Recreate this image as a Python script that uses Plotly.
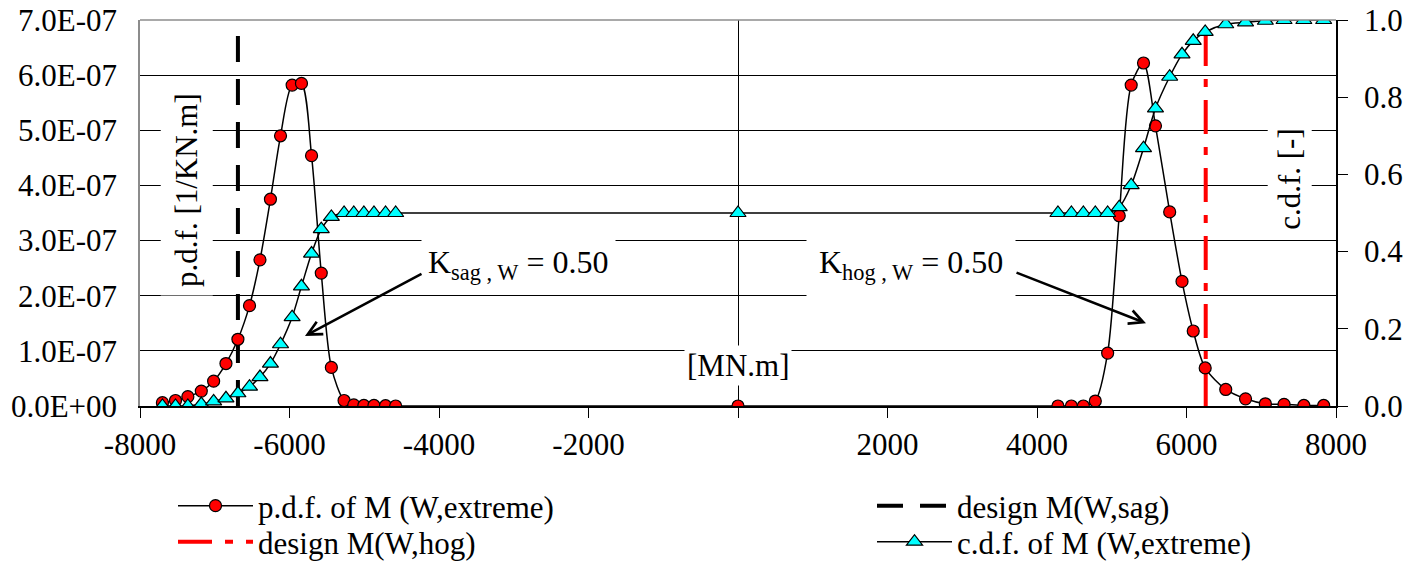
import plotly.graph_objects as go

# ---------------- data ----------------
# bending moment M [MN.m] -- sagging branch, the mid point, hogging branch
m_sag = [-7700, -7525, -7360, -7180, -7015, -6850, -6690, -6535, -6395, -6255, -6120,
         -5965, -5840, -5705, -5575, -5440, -5270, -5140, -5005, -4870, -4715, -4580]
m_mid = [0]
m_hog = [4280, 4460, 4620, 4780, 4945, 5100, 5260, 5425, 5585, 5775, 5940,
         6090, 6250, 6525, 6790, 7055, 7305, 7570, 7835]

# p.d.f. of M (W,extreme) [1/KN.m]
pdf_sag = [0.06e-7, 0.10e-7, 0.17e-7, 0.27e-7, 0.45e-7, 0.77e-7, 1.21e-7, 1.82e-7, 2.65e-7, 3.75e-7, 4.90e-7,
           5.82e-7, 5.85e-7, 4.54e-7, 2.41e-7, 0.70e-7, 0.10e-7, 0.02e-7, 0.01e-7, 0.01e-7, 0.005e-7, 0.0]
pdf_mid = [0.0]
pdf_hog = [0.0, 0.0, 0.0, 0.09e-7, 0.96e-7, 3.45e-7, 5.82e-7, 6.22e-7, 5.08e-7, 3.52e-7, 2.26e-7,
           1.36e-7, 0.69e-7, 0.30e-7, 0.13e-7, 0.04e-7, 0.03e-7, 0.01e-7, 0.01e-7]

# c.d.f. of M (W,extreme) [-]
cdf_sag = [0.0, 0.0, 0.0, 0.005, 0.012, 0.02, 0.033, 0.05, 0.075, 0.11, 0.16,
           0.23, 0.31, 0.395, 0.458, 0.49, 0.5, 0.5, 0.5, 0.5, 0.5, 0.5]
cdf_mid = [0.5]
cdf_hog = [0.5, 0.5, 0.5, 0.5, 0.5, 0.515, 0.572, 0.668, 0.771, 0.853, 0.911,
           0.946, 0.969, 0.989, 0.994, 0.998, 1.0, 1.0, 1.0]

# design moments
design_sag = -6690
design_hog = 6257
design_span = [0.0, 7.0e-7]

# axis ticks
x_tickvals = [-8000, -6000, -4000, -2000, 0, 2000, 4000, 6000, 8000]
x_ticktext = ["-8000", "-6000", "-4000", "-2000", "", "2000", "4000", "6000", "8000"]
y_tickvals = [0.0, 1e-7, 2e-7, 3e-7, 4e-7, 5e-7, 6e-7, 7e-7]
y_ticktext = ["0.0E+00", "1.0E-07", "2.0E-07", "3.0E-07", "4.0E-07", "5.0E-07", "6.0E-07", "7.0E-07"]
y2_tickvals = [0.0, 0.2, 0.4, 0.6, 0.8, 1.0]
y2_ticktext = ["0.0", "0.2", "0.4", "0.6", "0.8", "1.0"]

# annotation texts
k_sag_text = "K<sub>sag , W</sub> = 0.50"
k_hog_text = "K<sub>hog , W</sub> = 0.50"
unit_text = "[MN.m]"
pdf_title = "p.d.f. [1/KN.m]"
cdf_title = "c.d.f. [-]"

# ---------------- figure ----------------
FONT = "Liberation Serif"
FS = 31
m_all = m_sag + m_mid + m_hog
pdf_all = pdf_sag + pdf_mid + pdf_hog
cdf_all = cdf_sag + cdf_mid + cdf_hog

fig = go.Figure()

fig.add_trace(go.Scatter(
    x=[design_sag, design_sag], y=design_span, mode="lines", name="design M(W,sag)",
    line=dict(color="black", width=4, dash="26px,17px"),
    legend="legend2", hoverinfo="skip"))

fig.add_trace(go.Scatter(
    x=[design_hog, design_hog], y=design_span, mode="lines", name="design M(W,hog)",
    line=dict(color="#FF0000", width=4, dash="34px,13px,8px,13px"),
    legend="legend3", hoverinfo="skip"))

fig.add_trace(go.Scatter(
    x=m_all, y=pdf_all, mode="lines+markers", name="p.d.f. of M (W,extreme)",
    line=dict(color="black", width=1.5, shape="spline", smoothing=0.8),
    marker=dict(symbol="circle", size=12, color="#FF0000", line=dict(color="black", width=1.2)),
    legend="legend"))

fig.add_trace(go.Scatter(
    x=m_all, y=cdf_all, mode="lines+markers", name="c.d.f. of M (W,extreme)", yaxis="y2",
    line=dict(color="black", width=1.5, shape="spline", smoothing=0.8),
    marker=dict(symbol="triangle-up", size=14, color="#00FFFF", line=dict(color="black", width=1.2)),
    legend="legend4"))

tickfont = dict(family=FONT, size=FS, color="black")

# the page body margin is removed (post_script below), so the plot area
# lands at screen pixels x 140..1336, y 20..406
FIG_W, FIG_H = 1419, 564
PLOT_L, PLOT_R, PLOT_T, PLOT_B = 140, 1336, 20, 406


def px_to_paper(px, py):
    return (px - PLOT_L) / (PLOT_R - PLOT_L), (PLOT_B - py) / (PLOT_B - PLOT_T)


def legend_at(px, py):
    lx, ly = px_to_paper(px, py)
    return dict(orientation="v", x=lx, xanchor="left", y=ly, yanchor="middle",
                font=dict(family=FONT, size=FS, color="black"), itemwidth=75,
                bgcolor="rgba(0,0,0,0)", borderwidth=0)


fig.update_layout(
    width=FIG_W, height=FIG_H,
    margin=dict(l=PLOT_L, r=FIG_W - PLOT_R, t=PLOT_T, b=FIG_H - PLOT_B, autoexpand=False),
    paper_bgcolor="white", plot_bgcolor="white",
    font=dict(family=FONT, size=FS, color="black"),
    showlegend=True,
    xaxis=dict(
        range=[-8000, 8000], tickvals=x_tickvals, ticktext=x_ticktext,
        ticks="outside", ticklen=10, tickwidth=1, tickcolor="black",
        showline=True, linecolor="black", linewidth=1.5,
        showgrid=False, zeroline=True, zerolinecolor="black", zerolinewidth=1,
        tickfont=tickfont, ticklabelstandoff=0, automargin=False,
        ticklabeloverflow="allow"),
    yaxis=dict(
        range=[0, 7e-7], tickvals=y_tickvals, ticktext=y_ticktext,
        ticks="", showline=True, linecolor="#8c8c8c", linewidth=1.5,
        showgrid=True, gridcolor="black", gridwidth=1, zeroline=False,
        tickfont=tickfont, ticklabelstandoff=15, automargin=False,
        ticklabeloverflow="allow"),
    yaxis2=dict(
        range=[0, 1], tickvals=y2_tickvals, ticktext=y2_ticktext,
        overlaying="y", side="right", anchor="x",
        ticks="outside", ticklen=10, tickcolor="black", tickwidth=1,
        showline=True, linecolor="black", linewidth=1.5,
        showgrid=False, zeroline=False, tickfont=tickfont, ticklabelstandoff=10,
        automargin=False, ticklabeloverflow="allow"),
    yaxis3=dict(
        range=[0, 1], tickvals=y2_tickvals, overlaying="y", side="right", anchor="x",
        ticks="inside", ticklen=10, tickcolor="black", tickwidth=1,
        showticklabels=False, showline=False, showgrid=False, zeroline=False,
        automargin=False),
    legend=legend_at(173, 506),
    legend2=legend_at(872, 506),
    legend3=legend_at(173, 542),
    legend4=legend_at(872, 542),
)

# top border of the plot area (grey)
fig.add_shape(type="line", xref="paper", yref="paper", x0=0, x1=1, y0=1, y1=1,
              line=dict(color="#8c8c8c", width=1.5))

# labels with white boxes (they break the grid lines as in the original)
fig.add_annotation(x=-7370, y=3.92e-7, xref="x", yref="y", text=pdf_title, textangle=-90,
                   showarrow=False, bgcolor="white", borderpad=8,
                   font=dict(family=FONT, size=FS, color="black"))
fig.add_annotation(x=7385, y=4.12e-7, xref="x", yref="y", text=cdf_title, textangle=-90,
                   showarrow=False, bgcolor="white", borderpad=4,
                   font=dict(family=FONT, size=FS, color="black"))
fig.add_annotation(x=0, y=0.74e-7, xref="x", yref="y", text=unit_text,
                   showarrow=False, bgcolor="white", borderpad=2,
                   font=dict(family=FONT, size=FS, color="black"))
fig.add_annotation(x=-2930, y=2.56e-7, xref="x", yref="y", text=k_sag_text,
                   showarrow=False, bgcolor="white", borderpad=6,
                   font=dict(family=FONT, size=32, color="black"))
fig.add_annotation(x=2320, y=2.56e-7, xref="x", yref="y", text=k_hog_text,
                   showarrow=False, bgcolor="white", borderpad=12,
                   font=dict(family=FONT, size=32, color="black"))

# arrows
fig.add_annotation(x=-5793, y=1.27e-7, ax=-4214, ay=2.41e-7, xref="x", yref="y",
                   axref="x", ayref="y", text="", showarrow=True,
                   arrowhead=5, arrowsize=1.1, arrowwidth=2.5, arrowcolor="black")
fig.add_annotation(x=5458, y=1.50e-7, ax=3706, ay=2.43e-7, xref="x", yref="y",
                   axref="x", ayref="y", text="", showarrow=True,
                   arrowhead=5, arrowsize=1.1, arrowwidth=2.5, arrowcolor="black")

fig.write_html("out.html",
               config={"displayModeBar": False},
               post_script="document.body.style.margin='0px';"
                           "document.body.style.overflow='hidden';")
